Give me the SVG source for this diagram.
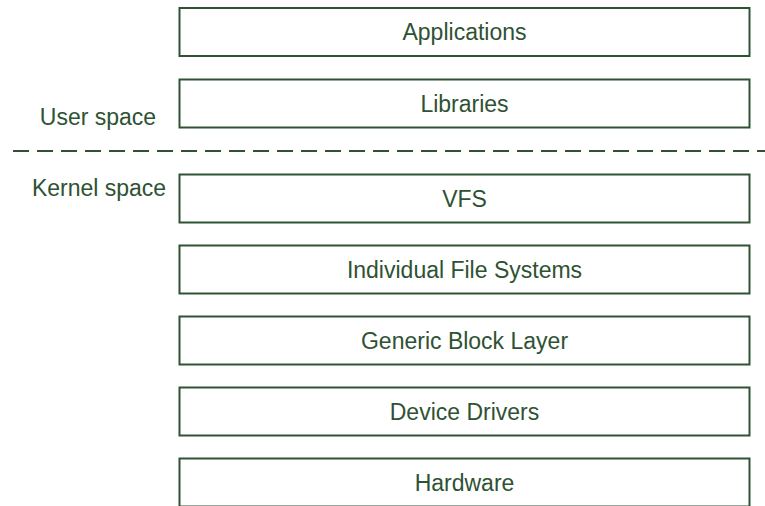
<svg xmlns="http://www.w3.org/2000/svg" width="765" height="506" viewBox="0 0 765 506">
<style>
.box{fill:#ffffff;stroke:#2e5233;stroke-width:2}
.t{font-family:"Liberation Sans",sans-serif;font-size:23px;fill:#2e5233;text-anchor:middle}
.sep{stroke:#2e5233;stroke-width:2;stroke-dasharray:16 8;fill:none}
</style>
<rect width="765" height="506" fill="#ffffff"/>
<g id="connectors">
<line class="sep" x1="13" y1="151" x2="765" y2="151"/>
</g>
<g id="user-space-label"><text class="t" x="98" y="125">User space</text></g>
<g id="kernel-space-label"><text class="t" x="99" y="196">Kernel space</text></g>
<g id="applications"><rect class="box" x="179.5" y="8" width="570" height="48"/><text class="t" x="464.5" y="40">Applications</text></g>
<g id="libraries"><rect class="box" x="179.5" y="79.5" width="570" height="48"/><text class="t" x="464.5" y="111.5">Libraries</text></g>
<g id="vfs"><rect class="box" x="179.5" y="174.5" width="570" height="48"/><text class="t" x="464.5" y="206.5">VFS</text></g>
<g id="individual-fs"><rect class="box" x="179.5" y="245.5" width="570" height="48"/><text class="t" x="464.5" y="277.5">Individual File Systems</text></g>
<g id="generic-block-layer"><rect class="box" x="179.5" y="316.5" width="570" height="48"/><text class="t" x="464.5" y="348.5">Generic Block Layer</text></g>
<g id="device-drivers"><rect class="box" x="179.5" y="387.5" width="570" height="48"/><text class="t" x="464.5" y="419.5">Device Drivers</text></g>
<g id="hardware"><rect class="box" x="179.5" y="458.5" width="570" height="48"/><text class="t" x="464.5" y="490.5">Hardware</text></g>
</svg>
